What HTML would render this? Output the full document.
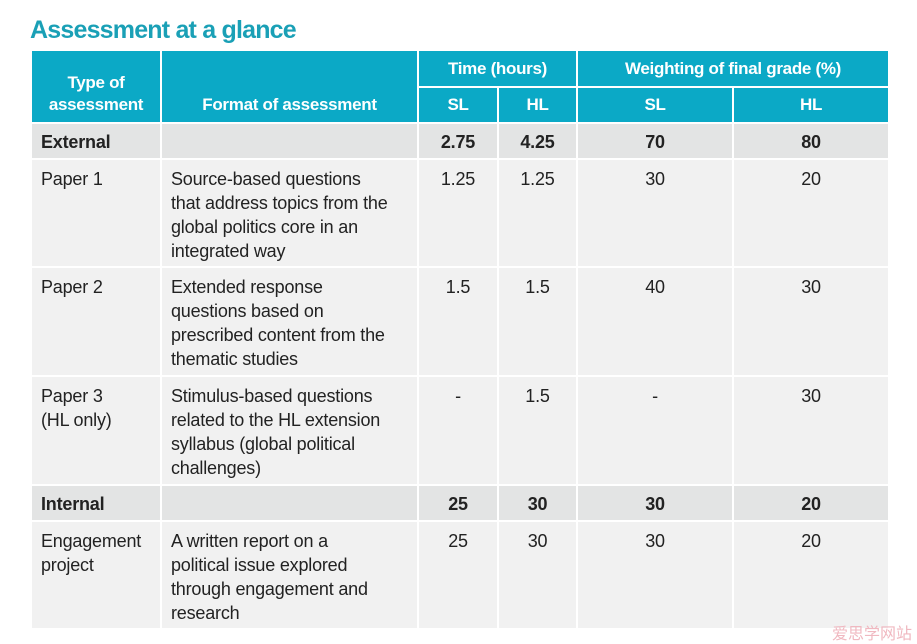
<!DOCTYPE html>
<html><head><style>
body{margin:0;width:917px;height:644px;background:#fff;position:relative;overflow:hidden;font-family:"Liberation Sans",sans-serif;}
.t{position:absolute;left:30px;top:16px;font-size:25px;font-weight:bold;color:#1aa0b6;letter-spacing:-0.8px}
.c{position:absolute;box-sizing:border-box;font-size:18px;line-height:24px;color:#222;padding:7px 9px;white-space:nowrap;letter-spacing:-0.2px}
.h{background:#0ba9c6;color:#fff;font-weight:bold;text-align:center;padding:0;font-size:17px;line-height:22px;letter-spacing:-0.3px}
.g{background:#e3e4e4;font-weight:bold;padding-top:6px}
.l{background:#f1f1f1}
.m{text-align:center}
</style></head><body>
<div class="t">Assessment at a glance</div>
<div class="c h" style="left:32px;top:51px;width:128px;height:71px;padding-top:21px">Type of<br>assessment</div>
<div class="c h" style="left:162px;top:51px;width:255px;height:71px;padding-top:43px">Format of assessment</div>
<div class="c h" style="left:419px;top:51px;width:157px;height:35px;padding-top:7px">Time (hours)</div>
<div class="c h" style="left:578px;top:51px;width:310px;height:35px;padding-top:7px">Weighting of final grade (%)</div>
<div class="c h" style="left:419px;top:88px;width:78px;height:34px;padding-top:6px">SL</div>
<div class="c h" style="left:499px;top:88px;width:77px;height:34px;padding-top:6px">HL</div>
<div class="c h" style="left:578px;top:88px;width:154px;height:34px;padding-top:6px">SL</div>
<div class="c h" style="left:734px;top:88px;width:154px;height:34px;padding-top:6px">HL</div>

<div class="c g" style="left:32px;top:124px;width:128px;height:34px">External</div>
<div class="c g" style="left:162px;top:124px;width:255px;height:34px"></div>
<div class="c g m" style="left:419px;top:124px;width:78px;height:34px">2.75</div>
<div class="c g m" style="left:499px;top:124px;width:77px;height:34px">4.25</div>
<div class="c g m" style="left:578px;top:124px;width:154px;height:34px">70</div>
<div class="c g m" style="left:734px;top:124px;width:154px;height:34px">80</div>

<div class="c l" style="left:32px;top:160px;width:128px;height:106px">Paper 1</div>
<div class="c l" style="left:162px;top:160px;width:255px;height:106px">Source-based questions<br>that address topics from the<br>global politics core in an<br>integrated way</div>
<div class="c l m" style="left:419px;top:160px;width:78px;height:106px">1.25</div>
<div class="c l m" style="left:499px;top:160px;width:77px;height:106px">1.25</div>
<div class="c l m" style="left:578px;top:160px;width:154px;height:106px">30</div>
<div class="c l m" style="left:734px;top:160px;width:154px;height:106px">20</div>

<div class="c l" style="left:32px;top:268px;width:128px;height:107px">Paper 2</div>
<div class="c l" style="left:162px;top:268px;width:255px;height:107px">Extended response<br>questions based on<br>prescribed content from the<br>thematic studies</div>
<div class="c l m" style="left:419px;top:268px;width:78px;height:107px">1.5</div>
<div class="c l m" style="left:499px;top:268px;width:77px;height:107px">1.5</div>
<div class="c l m" style="left:578px;top:268px;width:154px;height:107px">40</div>
<div class="c l m" style="left:734px;top:268px;width:154px;height:107px">30</div>

<div class="c l" style="left:32px;top:377px;width:128px;height:107px">Paper 3<br>(HL only)</div>
<div class="c l" style="left:162px;top:377px;width:255px;height:107px">Stimulus-based questions<br>related to the HL extension<br>syllabus (global political<br>challenges)</div>
<div class="c l m" style="left:419px;top:377px;width:78px;height:107px">-</div>
<div class="c l m" style="left:499px;top:377px;width:77px;height:107px">1.5</div>
<div class="c l m" style="left:578px;top:377px;width:154px;height:107px">-</div>
<div class="c l m" style="left:734px;top:377px;width:154px;height:107px">30</div>

<div class="c g" style="left:32px;top:486px;width:128px;height:34px">Internal</div>
<div class="c g" style="left:162px;top:486px;width:255px;height:34px"></div>
<div class="c g m" style="left:419px;top:486px;width:78px;height:34px">25</div>
<div class="c g m" style="left:499px;top:486px;width:77px;height:34px">30</div>
<div class="c g m" style="left:578px;top:486px;width:154px;height:34px">30</div>
<div class="c g m" style="left:734px;top:486px;width:154px;height:34px">20</div>

<div class="c l" style="left:32px;top:522px;width:128px;height:106px">Engagement<br>project</div>
<div class="c l" style="left:162px;top:522px;width:255px;height:106px">A written report on a<br>political issue explored<br>through engagement and<br>research</div>
<div class="c l m" style="left:419px;top:522px;width:78px;height:106px">25</div>
<div class="c l m" style="left:499px;top:522px;width:77px;height:106px">30</div>
<div class="c l m" style="left:578px;top:522px;width:154px;height:106px">30</div>
<div class="c l m" style="left:734px;top:522px;width:154px;height:106px">20</div>
<div style="position:absolute;left:832px;top:620px;font-size:16px;color:#f0b8c0;font-family:'Noto Sans CJK SC',sans-serif">爱思学网站</div>
</body></html>
